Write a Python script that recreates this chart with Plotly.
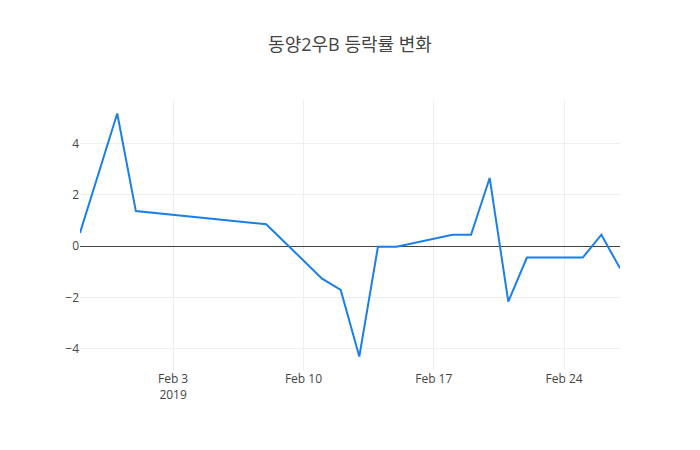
import plotly.graph_objects as go

# trading days and daily change rate (%)
dates = [
    '2019-01-29', '2019-01-31', '2019-02-01', '2019-02-08', '2019-02-11',
    '2019-02-12', '2019-02-13', '2019-02-14', '2019-02-15', '2019-02-18',
    '2019-02-19', '2019-02-20', '2019-02-21', '2019-02-22', '2019-02-25',
    '2019-02-26', '2019-02-27',
]
change_rate = [
    0.51, 5.16, 1.36, 0.85, -1.27,
    -1.71, -4.30, -0.03, -0.03, 0.44,
    0.44, 2.65, -2.16, -0.45, -0.45,
    0.44, -0.87,
]

title_text = '동양2우B 등락률 변화'

fig = go.Figure()

fig.add_trace(
    go.Scatter(
        x=dates,
        y=change_rate,
        mode='lines',
        line=dict(color='#1a7fe8', width=2),
    )
)

# page body has an 8px margin, so the figure is shrunk to fit the window
fig.update_layout(
    template='none',
    title=dict(text=title_text, x=342 / 684, xanchor='center',
               y=1 - 37 / 434, yanchor='middle', font=dict(size=18)),
    width=684,
    height=434,
    margin=dict(l=72, r=72, t=92, b=72),
    showlegend=False,
    font=dict(family='Open Sans, Noto Sans CJK KR, sans-serif', color='#444'),
)
fig.update_xaxes(showgrid=True, gridcolor='#eee', zeroline=False)
fig.update_yaxes(showgrid=True, gridcolor='#eee', zeroline=True, zerolinecolor='#444')

fig.write_html('out.html')
